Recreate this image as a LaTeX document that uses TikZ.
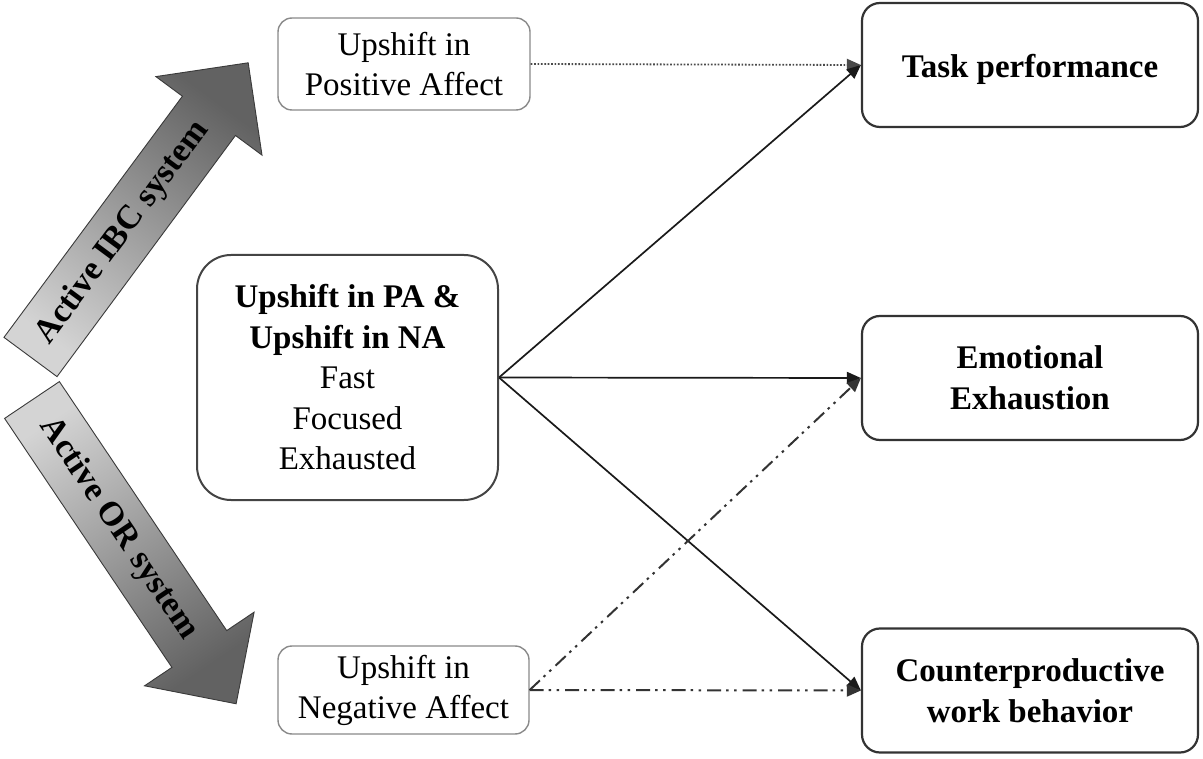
\documentclass[tikz,border=0pt]{standalone}
\usepackage{fontspec}
\setmainfont{Liberation Serif}
\usetikzlibrary{arrows.meta}
\definecolor{linecol}{HTML}{1A1A1A}
\definecolor{boxdark}{HTML}{333333}
\definecolor{boxmid}{HTML}{444444}
\definecolor{boxlight}{HTML}{8A8A8A}
\definecolor{arrowdark}{HTML}{626262}
\definecolor{arrowlight}{HTML}{D4D4D4}
\definecolor{arrowedge}{HTML}{3A3A3A}
\definecolor{dotcol}{HTML}{4A4A4A}
\newcommand{\BigSysArrow}[5]{%
  \shadedraw[draw=arrowedge, line width=0.9pt, line join=miter,
    top color=arrowdark, bottom color=arrowlight, shading angle=#3]
    ([shift={#1},rotate=#2]0,33) -- ([shift={#1},rotate=#2]300,33) --
    ([shift={#1},rotate=#2]300,66) -- ([shift={#1},rotate=#2]366,0) --
    ([shift={#1},rotate=#2]300,-66) -- ([shift={#1},rotate=#2]300,-33) --
    ([shift={#1},rotate=#2]0,-33) -- cycle;
  \node[systext, rotate=#2] (#5) at ([shift={#1},rotate=#2]155,0) {#4};
}
\begin{document}
\begin{tikzpicture}[x=1pt, y=-1pt,
  systext/.style={font=\fontsize{34}{40}\selectfont\bfseries, inner sep=0pt},
  affbox/.style={draw=boxlight, line width=1.4pt, rounded corners=14pt,
    align=center, inner sep=0pt, font=\fontsize{33}{40}\selectfont},
  midbox/.style={draw=boxmid, line width=2pt, rounded corners=34pt,
    align=center, inner sep=0pt, font=\fontsize{33}{40.5}\selectfont},
  outbox/.style={draw=boxdark, line width=2.2pt, rounded corners=18pt,
    align=center, inner sep=0pt, minimum width=336pt, minimum height=124pt,
    font=\fontsize{33}{41}\selectfont\bfseries},
  conn/.style={draw=linecol, line width=1.7pt,
    -{Triangle[length=14pt,width=12pt]}},
  dotconn/.style={conn, draw=dotcol, line width=1.8pt, dash pattern=on 1.7pt off 1.7pt},
  ddconn/.style={conn, draw=boxdark, line width=2pt,
    dash pattern=on 14pt off 5pt on 2.5pt off 5.5pt on 2.5pt off 6pt},
]
\fill[white] (0,0) rectangle (1203,759);
\useasboundingbox (0,0) rectangle (1203,759);

% big system arrows
\BigSysArrow{(30.5,357)}{53.5}{-36.5}{Active IBC system}{ibc}
\BigSysArrow{(32,400)}{-56.1}{-146.1}{Active OR system}{orsys}

% boxes
\node[affbox, minimum width=252pt, minimum height=92pt] (pa) at (404,64)
  {Upshift in\\Positive Affect};
\node[affbox, minimum width=251pt, minimum height=88pt] (na) at (403.5,690)
  {Upshift in\\Negative Affect};
\node[midbox, minimum width=301pt, minimum height=245pt] (mid) at (347.5,377.5)
  {\textbf{Upshift in PA \&}\\\textbf{Upshift in NA}\\Fast\\Focused\\Exhausted};
\node[outbox] (task) at (1030,65) {\raisebox{-12.5pt}[0pt][0pt]{Task performance}};
\node[outbox] (emo) at (1030,378) {Emotional\\Exhaustion};
\node[outbox] (cwb) at (1030,690.5) {Counterproductive\\work behavior};

% connectors
\draw[dotconn] (pa.east) -- (task.west);
\draw[conn] (mid.east) -- (task.west);
\draw[conn] (mid.east) -- (emo.west);
\draw[conn] (mid.east) -- (cwb.west);
\draw[ddconn] (na.east) -- (emo.west);
\draw[ddconn] (na.east) -- (cwb.west);
\end{tikzpicture}
\end{document}
